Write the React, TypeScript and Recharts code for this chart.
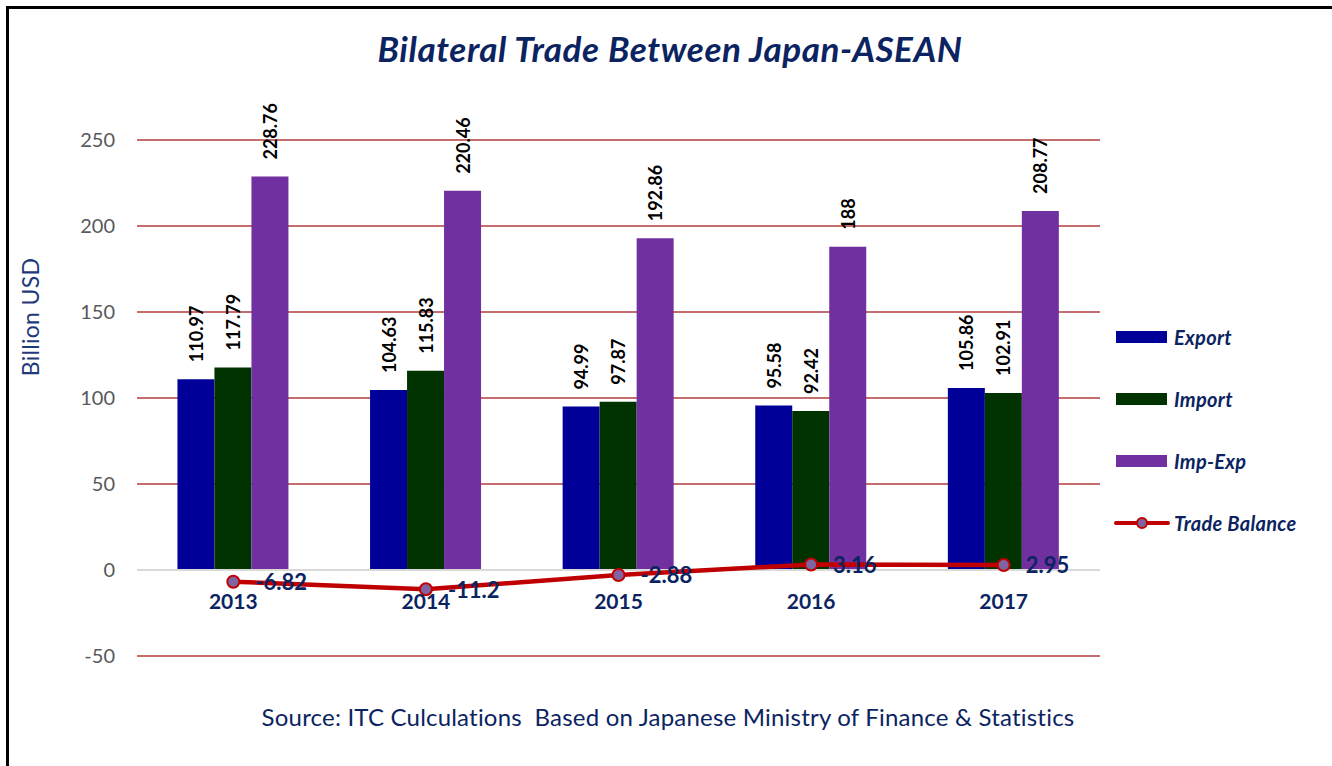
import { Bar, CartesianGrid, ComposedChart, LabelList, Legend, Line, ReferenceLine, XAxis, YAxis } from 'recharts';

const years = ['2013', '2014', '2015', '2016', '2017'];
const exportValues = [110.97, 104.63, 94.99, 95.58, 105.86];
const importValues = [117.79, 115.83, 97.87, 92.42, 102.91];
const impExpValues = [228.76, 220.46, 192.86, 188, 208.77];
const tradeBalance = [-6.82, -11.2, -2.88, 3.16, 2.95];
const yTicks = [-50, 0, 50, 100, 150, 200, 250];
const seriesOrder = ['Export', 'Import', 'Imp-Exp', 'Trade Balance'];

const data = years.map((year, i) => ({
  year,
  exp: exportValues[i],
  imp: importValues[i],
  impExp: impExpValues[i],
  balance: tradeBalance[i],
}));

const FONT = 'Lato, "Open Sans", sans-serif';
const NAVY = '#0B2461';
const W = 1332;
const H = 766;
const PLOT_TOP = 140;
const PLOT_BOTTOM = 656;
const PLOT_RIGHT = 1100;
const LEGEND_W = 210;
const Y_MIN = -50;
const Y_MAX = 250;
const ZERO_Y = PLOT_TOP + ((PLOT_BOTTOM - PLOT_TOP) * Y_MAX) / (Y_MAX - Y_MIN);

function CategoryTick(props: any) {
  const { x, payload } = props;
  return (
    <text x={x} y={ZERO_Y + 39} textAnchor="middle" fill={NAVY} fontSize={21} fontWeight={700} fontFamily={FONT}>
      {payload.value}
    </text>
  );
}

function BarValueLabel(props: any) {
  const { x, y, width, value } = props;
  const cx = x + width / 2;
  const cy = y - 17;
  return (
    <text
      x={cx}
      y={cy}
      transform={`rotate(-90 ${cx} ${cy})`}
      textAnchor="start"
      dominantBaseline="central"
      fill="#000"
      fontSize={18}
      fontWeight={700}
      fontFamily={FONT}
    >
      {value}
    </text>
  );
}

function BalanceLabel(props: any) {
  const { x, y, value } = props;
  return (
    <text x={x + 22} y={y} dominantBaseline="central" fill={NAVY} fontSize={22} fontWeight={700} fontFamily={FONT}>
      {value}
    </text>
  );
}

function LegendBox({ payload }: any) {
  const items = [...payload].sort((a: any, b: any) => seriesOrder.indexOf(a.value) - seriesOrder.indexOf(b.value));
  return (
    <div style={{ fontFamily: FONT }}>
      {items.map((entry: any) => (
        <div key={entry.value} style={{ display: 'flex', alignItems: 'center', height: 62 }}>
          {entry.type === 'line' ? (
            <svg width={56} height={14}>
              <line x1={2} y1={7} x2={54} y2={7} stroke="#C00000" strokeWidth={4} strokeLinecap="round" />
              <circle cx={28} cy={7} r={5} fill="#8064A2" stroke="#C00000" strokeWidth={2} />
            </svg>
          ) : (
            <svg width={56} height={14}>
              <rect x={2} y={1} width={51} height={12} fill={entry.color} />
            </svg>
          )}
          <span style={{ marginLeft: 4, color: NAVY, fontSize: 20, fontWeight: 700, fontStyle: 'italic', letterSpacing: 0.3 }}>
            {entry.value}
          </span>
        </div>
      ))}
    </div>
  );
}

export default function App() {
  return (
    <div style={{ position: 'absolute', left: 0, top: 0, width: W, height: H, overflow: 'hidden', background: '#fff' }}>
      <div
        style={{
          position: 'absolute',
          left: 6,
          top: 6,
          width: W + 20,
          height: H + 20,
          borderLeft: '3px solid #000',
          borderTop: '3px solid #000',
        }}
      />
      <div
        style={{
          position: 'absolute',
          left: 0,
          width: W + 8,
          top: 27,
          textAlign: 'center',
          fontFamily: FONT,
          fontSize: 35,
          fontWeight: 700,
          fontStyle: 'italic',
          letterSpacing: 0.6,
          color: NAVY,
          whiteSpace: 'nowrap',
        }}
      >
        Bilateral Trade Between Japan-ASEAN
      </div>
      <div
        style={{
          position: 'absolute',
          left: 30,
          top: 317,
          transform: 'translate(-50%, -50%) rotate(-90deg)',
          fontFamily: FONT,
          fontSize: 23,
          letterSpacing: 0.3,
          color: '#1F3A7A',
          whiteSpace: 'nowrap',
        }}
      >
        Billion USD
      </div>
      <div
        style={{
          position: 'absolute',
          left: 0,
          width: W + 4,
          top: 702,
          textAlign: 'center',
          fontFamily: FONT,
          fontSize: 24,
          letterSpacing: 0.2,
          color: NAVY,
          whiteSpace: 'pre',
        }}
      >
        {'Source: ITC Culculations  Based on Japanese Ministry of Finance & Statistics'}
      </div>
      <div style={{ position: 'absolute', left: 0, top: 0 }}>
        <ComposedChart
          width={W}
          height={H}
          data={data}
          margin={{ top: PLOT_TOP, right: W - PLOT_RIGHT - LEGEND_W, bottom: H - PLOT_BOTTOM - 30, left: 77 }}
          barCategoryGap="21%"
          barGap={0}
        >
          <CartesianGrid vertical={false} stroke="#B23B3B" strokeWidth={1.5} />
          <XAxis dataKey="year" axisLine={false} tickLine={false} height={30} tick={<CategoryTick />} />
          <YAxis
            width={60}
            domain={[Y_MIN, Y_MAX]}
            ticks={yTicks}
            axisLine={false}
            tickLine={false}
            tickSize={0}
            tickMargin={22}
            tick={{ fill: '#595959', fontSize: 20, fontFamily: FONT }}
          />
          <ReferenceLine y={0} stroke="#D9D9D9" strokeWidth={2} />
          <Legend
            layout="vertical"
            align="right"
            verticalAlign="top"
            wrapperStyle={{ left: 1114, top: 306, width: LEGEND_W }}
            content={<LegendBox />}
          />
          <Bar dataKey="exp" name="Export" fill="#000099" isAnimationActive={false}>
            <LabelList dataKey="exp" content={<BarValueLabel />} />
          </Bar>
          <Bar dataKey="imp" name="Import" fill="#003300" isAnimationActive={false}>
            <LabelList dataKey="imp" content={<BarValueLabel />} />
          </Bar>
          <Bar dataKey="impExp" name="Imp-Exp" fill="#7030A0" isAnimationActive={false}>
            <LabelList dataKey="impExp" content={<BarValueLabel />} />
          </Bar>
          <Line
            dataKey="balance"
            name="Trade Balance"
            type="linear"
            stroke="#C00000"
            strokeWidth={4.5}
            dot={{ r: 6, fill: '#8064A2', stroke: '#C00000', strokeWidth: 2 }}
            legendType="line"
            isAnimationActive={false}
          >
            <LabelList dataKey="balance" content={<BalanceLabel />} />
          </Line>
        </ComposedChart>
      </div>
    </div>
  );
}
